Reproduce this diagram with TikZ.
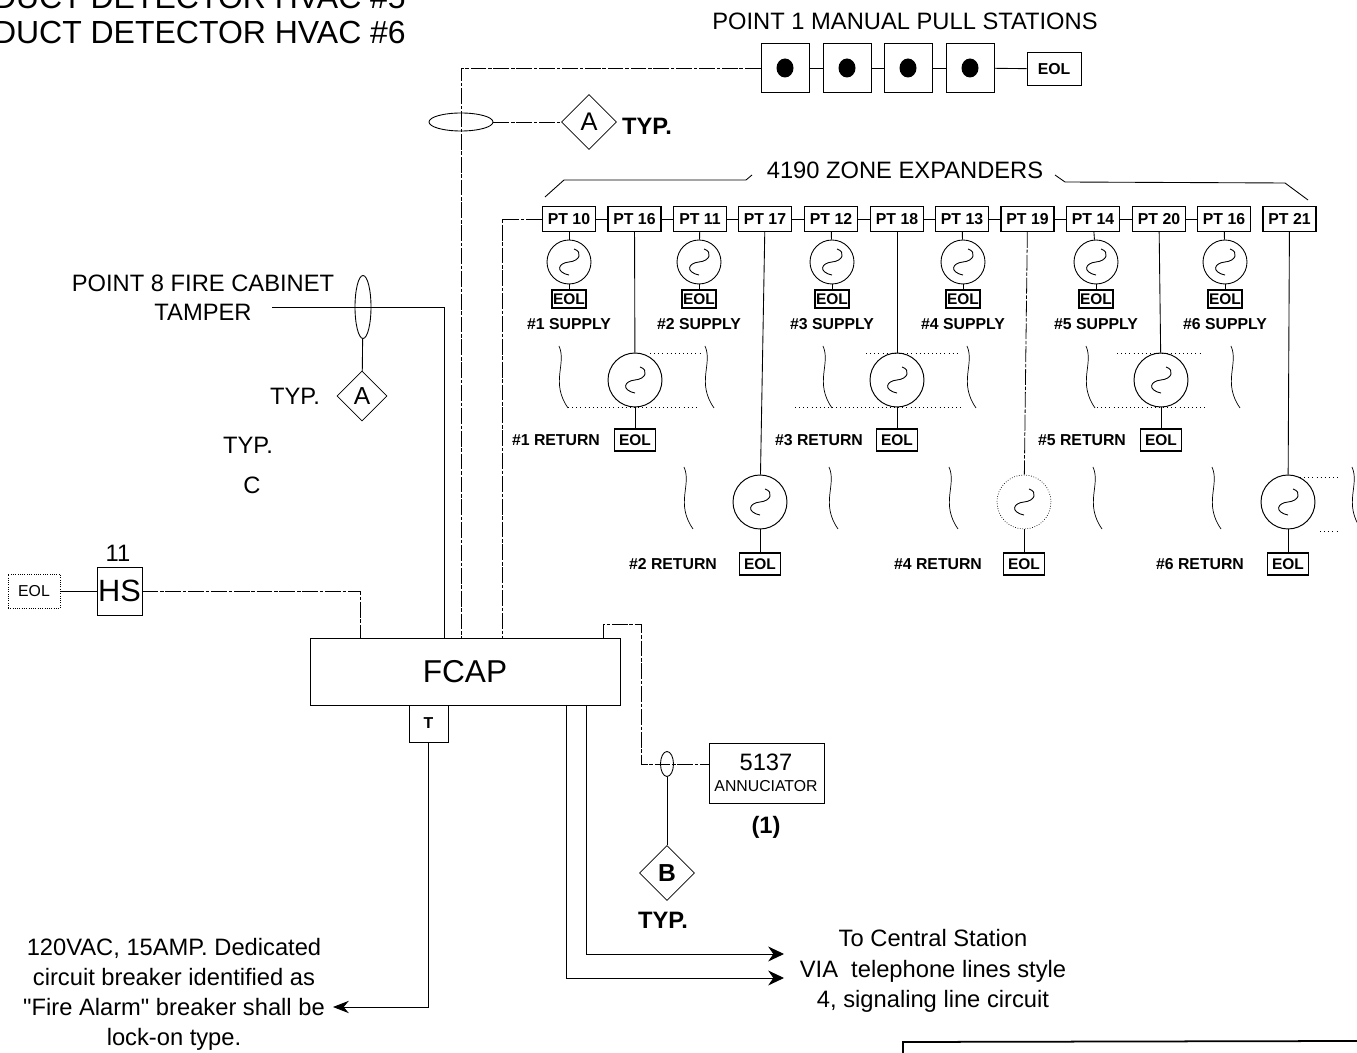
\documentclass[tikz,border=0pt]{standalone}
\usepackage{fontspec}
\setmainfont{Liberation Sans}
\newfontfamily\plainquote{Liberation Sans}
\usetikzlibrary{shapes.geometric,arrows.meta}

\tikzset{
  every node/.style={font=\fontsize{13.5}{15}\selectfont},
  wire/.style={line width=0.5pt},
  faintwire/.style={line width=0.45pt, dash pattern=on 9pt off 1pt on 2pt off 1pt},
  ptbox/.style={draw, line width=0.6pt, minimum width=1.06cm, minimum height=0.5cm, inner sep=0pt,
    font=\fontsize{9}{10}\selectfont\bfseries},
  supeol/.style={draw, line width=0.9pt, minimum width=0.68cm, minimum height=0.36cm, inner sep=0pt,
    font=\fontsize{8.8}{10}\selectfont\bfseries},
  reteol/.style={draw, line width=0.6pt, minimum width=0.82cm, minimum height=0.44cm, inner sep=0pt,
    font=\fontsize{8.8}{10}\selectfont\bfseries},
  ptlabel/.style={font=\fontsize{9}{10}\selectfont\bfseries},
  suphorn/.style={draw, circle, line width=0.5pt, minimum size=0.88cm, inner sep=0pt},
  rethorn/.style={draw, circle, line width=0.55pt, minimum size=1.08cm, inner sep=0pt},
  fainthorn/.style={draw, circle, line width=0.4pt, densely dotted, minimum size=1.08cm, inner sep=0pt},
  pullbox/.style={draw, line width=0.55pt, minimum width=0.96cm, minimum height=0.98cm, inner sep=0pt},
  tagdiamond/.style={draw, diamond, line width=0.45pt, aspect=1, inner sep=0pt},
  pics/scurve/.style={code={
    \draw[line width=0.5pt] (5,-13) .. controls (14,-10) and (11,-1) .. (0,0)
      .. controls (-11,1) and (-14,10) .. (0,13);
  }},
  pics/wavy/.style={code={
    \draw[line width=0.4pt] (0,0) .. controls (8,18) and (-9,36) .. (9,62);
  }}
}

\begin{document}
\begin{tikzpicture}[x=0.02cm, y=-0.02cm]
  \useasboundingbox (0,0) rectangle (1357,1053);
  \clip (0,0) rectangle (1357,1053);

  % Titles cut by the sheet edge
  \node[anchor=east, font=\fontsize{18.2}{20}\selectfont] (hvacfive) at (412,-2) {DUCT DETECTOR HVAC \#5};
  \node[anchor=east, font=\fontsize{18.2}{20}\selectfont] (hvacsix) at (412,33) {DUCT DETECTOR HVAC \#6};
  \node (pulltitle) at (905,21) {POINT 1 MANUAL PULL STATIONS};

  % Main panel and its taps
  \node[draw, wire, minimum width=6.2cm, minimum height=1.34cm, inner sep=0pt,
    font=\fontsize{18}{20}\selectfont] (fcap) at (465,671.5) {FCAP};
  \node[draw, wire, minimum width=0.78cm, minimum height=0.74cm, inner sep=0pt,
    font=\fontsize{9}{10}\selectfont\bfseries] (tbox) at (428.5,723.5) {T};
  \coordinate (fcaphs) at (360,638);
  \coordinate (fcaptamper) at (444,638);
  \coordinate (fcappull) at (461,638);
  \coordinate (fcapzone) at (502,638);
  \coordinate (fcapann) at (603,638);
  \coordinate (fcapsigone) at (566,705);
  \coordinate (fcapsigtwo) at (586,705);

  % Pull stations
  \foreach \i/\x in {1/785, 2/847, 3/908, 4/970} {
    \node[pullbox] (pull\i) at (\x,68) {};
    \fill (\x,68) circle [x radius=8.5, y radius=9.5];
  }
  \node[draw, wire, minimum width=1.08cm, minimum height=0.66cm, inner sep=0pt,
    font=\fontsize{9}{10}\selectfont\bfseries] (pulleol) at (1054,69) {EOL};
  \foreach \i/\j in {1/2, 2/3, 3/4} {
    \draw[wire] (pull\i) -- (pull\j);
  }
  \draw[wire] (pull4) -- (pulleol);
  \draw[faintwire] (pull1) -| (fcappull);

  % Tag A on the pull circuit
  \node[draw, ellipse, wire, minimum width=1.28cm, minimum height=0.36cm, inner sep=0pt] (ringtop) at (461,122) {};
  \node[tagdiamond, minimum size=1.1cm, font=\fontsize{14.5}{16}\selectfont] (tagtop) at (589,122) {A};
  \node[font=\fontsize{13.5}{15}\selectfont\bfseries] (typtop) at (647,126) {TYP.};
  \draw[faintwire] (ringtop) -- (tagtop);

  % Zone expander bracket
  \node (zonetitle) at (905,170) {4190 ZONE EXPANDERS};
  \draw[wire] (545,197) -- (564,180) -- (746,180) -- (752,175);
  \draw[wire] (1055,175) -- (1065,182) -- (1285,183) -- (1308,200);

  % Point boxes
  \foreach \i/\x/\label in {1/569/PT 10, 2/634.5/PT 16, 3/700/PT 11, 4/765/PT 17,
  5/831/PT 12, 6/897/PT 18, 7/962/PT 13, 8/1027.5/PT 19, 9/1093/PT 14,
  10/1159/PT 20, 11/1224/PT 16, 12/1289.5/PT 21} {
    \node[ptbox] (pt\i) at (\x,219) {\label};
  }
  \foreach \i/\j in {1/2, 2/3, 3/4, 4/5, 5/6, 6/7, 7/8, 8/9, 9/10, 10/11} {
    \draw[wire] (pt\i) -- (pt\j);
  }
  \coordinate (ptfeed) at (502,219);
  \draw[faintwire] (pt1) -- (ptfeed) -- (fcapzone);

  % Supply side
  \foreach \n/\p/\x in {1/1/569, 2/3/699, 3/5/832, 4/7/963, 5/9/1096, 6/11/1225} {
    \node[suphorn] (sup\n) at (\x,262) {};
    \pic at (sup\n) {scurve};
    \node[supeol] (supeol\n) at (\x,299) {EOL};
    \node[ptlabel] (suplabel\n) at (\x,324) {\#\n\ SUPPLY};
    \draw[wire] (pt\p) -- (sup\n);
    \draw[wire] (sup\n) -- (supeol\n);
  }

  % Upper return side
  \foreach \n/\p/\x/\lx in {1/2/635/556, 3/6/897/819, 5/10/1161/1082} {
    \node[rethorn] (ret\n) at (\x,380) {};
    \pic at (ret\n) {scurve};
    \node[reteol] (reteol\n) at (\x,440) {EOL};
    \node[ptlabel] (retlabel\n) at (\lx,440) {\#\n\ RETURN};
    \draw[wire] (pt\p) -- (ret\n);
    \draw[wire] (ret\n) -- (reteol\n);
  }

  % Lower return side
  \foreach \n/\p/\x/\lx/\sty in {2/4/760/673/rethorn, 4/8/1024/938/fainthorn, 6/12/1288/1200/rethorn} {
    \node[\sty] (ret\n) at (\x,502) {};
    \pic at (ret\n) {scurve};
    \node[reteol] (reteol\n) at (\x,564) {EOL};
    \node[ptlabel] (retlabel\n) at (\lx,564) {\#\n\ RETURN};
    \draw[wire] (ret\n) -- (reteol\n);
  }
  \draw[wire] (pt4) -- (ret2);
  \draw[faintwire] (pt8) -- (ret4);
  \draw[wire] (pt12) -- (ret6);

  % Break marks and the dotted lines between them
  \foreach \x/\y in {559/346, 705/346, 823/346, 967/346, 1086/346, 1231/346,
  684/467, 829/467, 949/467, 1093/467, 1212/467, 1352/467} {
    \pic at (\x,\y) {wavy};
  }
  \foreach \a/\b/\y in {650/700/353, 568/700/407, 866/960/353, 795/963/407,
  1117/1200/353, 1097/1208/407, 1300/1340/477, 1320/1340/531} {
    \draw[line width=0.35pt, dotted] (\a,\y) -- (\b,\y);
  }

  % Tamper point
  \node[align=center] (tamperlabel) at (203,298) {POINT 8 FIRE CABINET\\[1.4pt]TAMPER};
  \coordinate (tamperend) at (272,307);
  \draw[wire] (tamperend) -| (fcaptamper);
  \node[draw, ellipse, wire, minimum width=0.32cm, minimum height=1.26cm, inner sep=0pt] (ringleft) at (363,307) {};
  \node[tagdiamond, minimum size=1cm, font=\fontsize{14}{16}\selectfont] (tagleft) at (362,396) {A};
  \draw[wire] (ringleft) -- (tagleft);
  \node (typleft) at (295,396) {TYP.};
  \node (typmid) at (248,445) {TYP.};
  \node (clabel) at (252,485) {C};

  % Heat sensor
  \node (hsnum) at (118,553) {11};
  \node[draw, wire, minimum width=0.9cm, minimum height=0.96cm, inner sep=0pt,
    font=\fontsize{17.5}{20}\selectfont] (hs) at (119.5,591) {HS};
  \node[draw, densely dotted, line width=0.3pt, minimum width=1.04cm, minimum height=0.68cm, inner sep=0pt,
    font=\fontsize{9}{10}\selectfont] (hseol) at (34,591) {EOL};
  \draw[wire] (hseol) -- (hs);
  \draw[faintwire] (hs) -| (fcaphs);

  % Power feed
  \node[align=center] (powerlabel) at (174,994.5) {120VAC, 15AMP. Dedicated\\[2.2pt]circuit breaker identified as\\[2.2pt]{\plainquote "}Fire Alarm{\plainquote "} breaker shall be\\[2.2pt]lock-on type.};
  \coordinate (powerend) at (333,1007);
  \draw[wire, -{Stealth[length=9pt, width=7pt]}] (tbox) |- (powerend);

  % Annunciator
  \node[draw, wire, minimum width=2.3cm, minimum height=1.2cm, inner sep=0pt] (annbox) at (766.5,773) {};
  \node (annnum) at (766,762) {5137};
  \node[font=\fontsize{9}{10}\selectfont] (annname) at (766,786) {ANNUCIATOR};
  \node[font=\fontsize{13.5}{15}\selectfont\bfseries] (annqty) at (766,827) {(1)};
  \coordinate (annup) at (603,624);
  \coordinate (annover) at (641,624);
  \coordinate (anndown) at (641,764);
  \coordinate (annin) at (709,764);
  \draw[faintwire] (fcapann) -- (annup) -- (annover) -- (anndown) -- (annin);
  \node[draw, ellipse, wire, minimum width=0.26cm, minimum height=0.5cm, inner sep=0pt] (ringann) at (667,764) {};
  \node[tagdiamond, minimum size=1.1cm, font=\fontsize{14}{16}\selectfont\bfseries] (tagann) at (667,873) {B};
  \draw[wire] (ringann) -- (tagann);
  \node[font=\fontsize{13.5}{15}\selectfont\bfseries] (typann) at (663,920) {TYP.};

  % Central station lines
  \coordinate (sigtwoend) at (784,954);
  \coordinate (sigoneend) at (784,978);
  \draw[wire, -{Stealth[length=9pt, width=8.5pt]}] (fcapsigtwo) |- (sigtwoend);
  \draw[wire, -{Stealth[length=9pt, width=8.5pt]}] (fcapsigone) |- (sigoneend);
  \node[align=center] (stationlabel) at (933,971) {To Central Station\\[2.2pt]VIA\ \ telephone lines style\\[2.2pt]4, signaling line circuit};

  % Title block corner
  \draw[line width=1pt] (1357,1041) -- (903,1042) -- (903,1053);
\end{tikzpicture}
\end{document}
